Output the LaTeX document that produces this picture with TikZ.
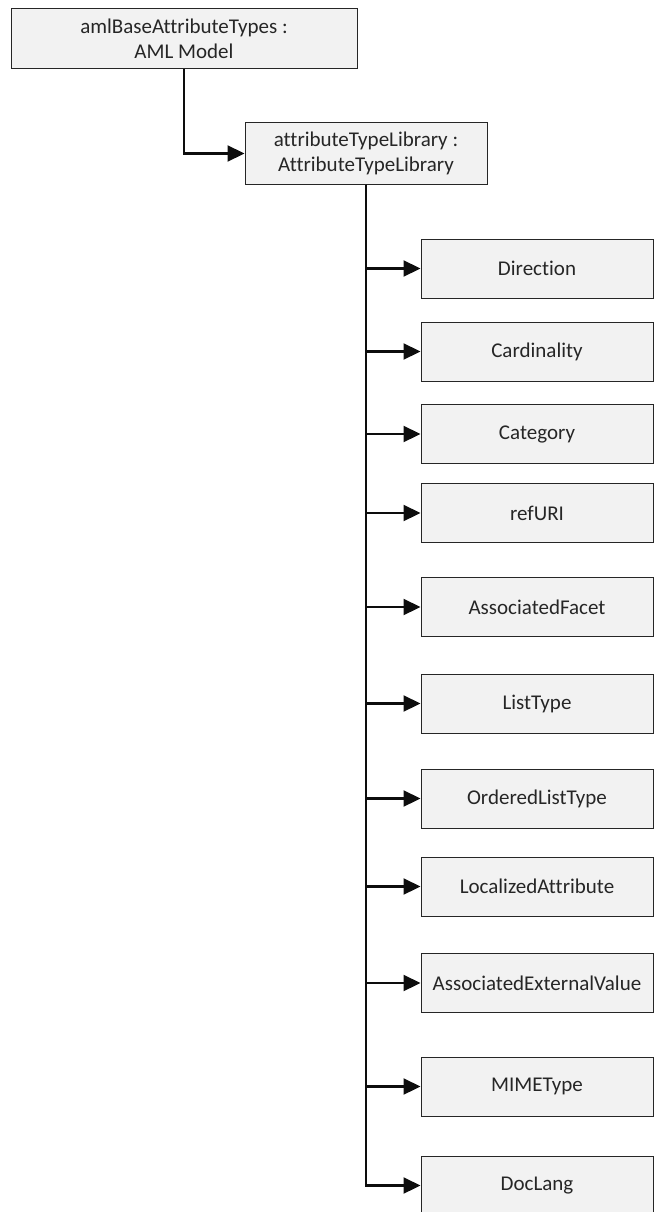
\documentclass[tikz,border=0pt]{standalone}
\usepackage{fontspec}
\setmainfont{Carlito}[Ligatures=NoCommon]
\usetikzlibrary{arrows.meta}
\begin{document}
\begin{tikzpicture}[x=1pt, y=-1pt,
    box/.style={draw=black!85, fill=black!5, line width=1pt, inner sep=0pt,
        align=center, text=black!85, font=\fontsize{21}{25}\selectfont},
    childbox/.style={box, minimum width=232pt, minimum height=59pt},
    link/.style={line width=2.2pt, draw=black!95,
        -{Triangle[length=17pt, width=16pt]}}]

    % --- 页面范围 ---
    \useasboundingbox (0, 0) rectangle (654, 1212);

    % --- 参数 ---
    \def\childX{537}     % 子节点中心 x

    % --- 上层两个节点 ---
    \node[box, minimum width=346pt, minimum height=60pt] (model) at (184, 39)
        {amlBaseAttributeTypes :\\AML Model};
    \node[box, minimum width=242pt, minimum height=61pt] (lib) at (366, 153.5)
        {attributeTypeLibrary :\\AttributeTypeLibrary};

    % 模型 -> 库
    \draw[link] (model.south) |- (lib.west);

    % --- 属性类型子节点及连线 ---
    \foreach \name/\y [count=\i] in {Direction/268.5, Cardinality/351.5,
        Category/434, refURI/513, AssociatedFacet/607, ListType/703.5,
        OrderedListType/798.5, LocalizedAttribute/886.5,
        AssociatedExternalValue/983, MIMEType/1086.5, DocLang/1185.5} {
        \node[childbox] (attr\i) at (\childX, \y) {\name};
        \draw[link] (lib.south) |- (attr\i.west);
    }

\end{tikzpicture}
\end{document}
